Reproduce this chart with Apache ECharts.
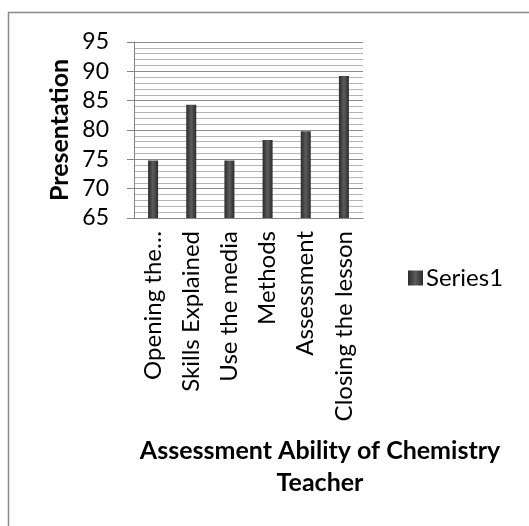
<!DOCTYPE html>
<html>
<head>
<meta charset="utf-8">
<script src="https://cdn.jsdelivr.net/npm/echarts@6/dist/echarts.min.js"></script>
<style>
  html, body { margin: 0; padding: 0; background: #fff; }
  #chart { width: 529px; height: 526px; }
</style>
</head>
<body>
<div id="chart"></div>
<script>
// categories as shown on the axis (first one is cut off in the original)
const categories = ['Opening the…', 'Skills Explained', 'Use the media', 'Methods', 'Assessment', 'Closing the lesson'];
const series1 = [74.8, 84.3, 74.8, 78.3, 79.8, 89.2];
const yTicks = { min: 65, max: 95, step: 5 };

const font = 'Lato, "Open Sans", sans-serif';
const barGrad = new echarts.graphic.LinearGradient(0, 0, 1, 0, [
  { offset: 0, color: '#2b2b2b' },
  { offset: 0.5, color: '#5c5c5c' },
  { offset: 1, color: '#2b2b2b' }
]);

const chart = echarts.init(document.getElementById('chart'), null, { renderer: 'canvas' });

chart.setOption({
  animation: false,
  backgroundColor: '#fff',
  title: {
    text: 'Assessment Ability of Chemistry\nTeacher',
    left: 320,
    top: 435,
    padding: 0,
    textAlign: 'center',
    textStyle: { fontFamily: font, fontSize: 25, fontWeight: 'bold', color: '#000', lineHeight: 32 }
  },
  legend: {
    data: ['Series1'],
    left: 408,
    top: 266,
    padding: 0,
    itemWidth: 15,
    itemHeight: 15,
    itemGap: 5,
    icon: 'rect',
    textStyle: { fontFamily: font, fontSize: 24, color: '#000', padding: [0, 0, 0, -2] }
  },
  grid: { left: 134, right: 166, top: 42, bottom: 308, containLabel: false },
  xAxis: {
    type: 'category',
    data: categories,
    axisLine: { lineStyle: { color: '#868686', width: 1 } },
    axisTick: { show: false },
    axisLabel: { rotate: 90, margin: 13, fontFamily: font, fontSize: 24, color: '#000', interval: 0 }
  },
  yAxis: {
    type: 'value',
    min: yTicks.min,
    max: yTicks.max,
    interval: yTicks.step,
    name: 'Presentation',
    nameLocation: 'middle',
    nameGap: 62,
    nameTextStyle: { fontFamily: font, fontSize: 25, fontWeight: 'bold', color: '#000' },
    axisLine: { show: true, lineStyle: { color: '#868686', width: 1 } },
    axisTick: { show: true, length: 7, lineStyle: { color: '#868686' } },
    axisLabel: { margin: 25, fontFamily: font, fontSize: 23, color: '#000' },
    splitLine: { show: true, lineStyle: { color: '#8c8c8c', width: 1 } },
    minorTick: { show: false, splitNumber: 5 },
    minorSplitLine: { show: true, lineStyle: { color: '#b4b4b4', width: 1 } }
  },
  series: [{
    name: 'Series1',
    type: 'bar',
    data: series1,
    barWidth: 10,
    itemStyle: { color: barGrad }
  }],
  graphic: [
    { type: 'line', silent: true, shape: { x1: 8, y1: 12.5, x2: 529, y2: 12.5 }, style: { stroke: '#8a8a8a', lineWidth: 1.5 } },
    { type: 'line', silent: true, shape: { x1: 8.5, y1: 12, x2: 8.5, y2: 526 }, style: { stroke: '#8a8a8a', lineWidth: 1.5 } }
  ]
});
</script>
</body>
</html>
